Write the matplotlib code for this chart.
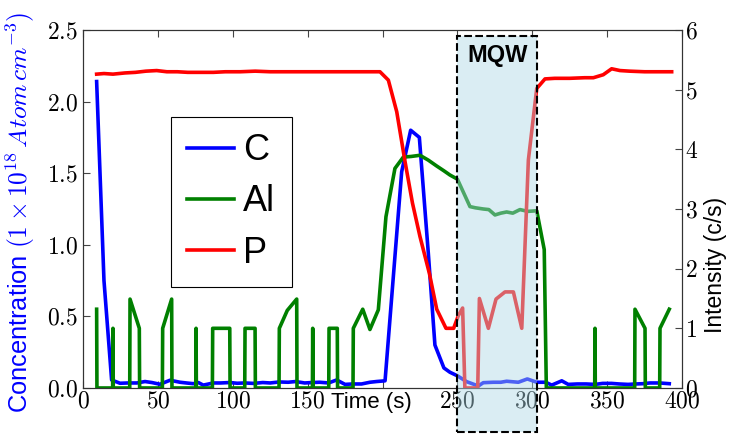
import matplotlib
matplotlib.use('Agg')
import matplotlib.pyplot as plt
from matplotlib.patches import Rectangle
from matplotlib.ticker import FuncFormatter, MultipleLocator

plt.rcParams['font.family'] = ['Liberation Sans', 'DejaVu Sans']
plt.rcParams['mathtext.fontset'] = 'cm'

# Carbone (axe gauche, 1e18 at/cm3)
t_c = [9.1, 14, 19.1, 24.7, 30, 36, 41.4, 46, 51.4, 58.1, 64.8, 69, 73.7, 77, 80.3, 87, 92, 98,
       103, 108, 114, 120, 125, 131, 137, 142, 148, 153, 158, 164, 169.4, 175, 180, 186, 191.6,
       196, 201.7, 212.8, 218.8, 224.6, 230.6, 235, 241, 245, 250, 256.2, 264, 267.3, 274, 279,
       282.9, 290.7, 296.7, 303, 309, 313, 319.7, 324, 330, 336, 342, 347, 353, 358, 364, 369,
       374, 378.6, 385, 391.5]
c_vals = [2.14, 0.75, 0.056, 0.033, 0.035, 0.035, 0.045, 0.038, 0.026, 0.054, 0.04, 0.035, 0.03,
          0.038, 0.02, 0.035, 0.035, 0.038, 0.033, 0.035, 0.032, 0.038, 0.035, 0.042, 0.04, 0.045,
          0.035, 0.038, 0.04, 0.035, 0.056, 0.025, 0.028, 0.028, 0.04, 0.045, 0.05, 1.51, 1.80,
          1.75, 0.94, 0.30, 0.14, 0.11, 0.085, 0.044, 0.014, 0.037, 0.04, 0.04, 0.047, 0.04, 0.063,
          0.04, 0.04, 0.02, 0.05, 0.025, 0.028, 0.028, 0.025, 0.032, 0.032, 0.028, 0.025, 0.028,
          0.03, 0.035, 0.035, 0.03]

# Aluminium (axe droit, c/s)
t_al = [9.1, 9.3, 19.8, 20, 20.2, 31.2, 31.4, 37.6, 37.8, 53.0, 53.2, 59.2, 59.4, 75.3, 75.5, 75.7,
        86.4, 86.6, 98, 98.2, 108.0, 108.2, 114.9, 115.1, 130.9, 131.1, 136.4, 142.7, 142.9,
        153.2, 153.4, 153.6, 164.1, 164.3, 169.8, 170.0, 180.3, 180.5, 186.8, 191.6, 197.2, 202.3,
        208.3, 213.9, 219, 225, 230.5, 236.2, 241, 245, 250, 258.4, 262, 267.3, 271, 275.1, 279,
        282.9, 287, 291.8, 297, 303, 308, 309.4, 341.7, 341.9, 342.1, 368.4, 368.6, 375.3, 375.5,
        385.1, 385.3, 391.5]
al_vals = [1.32, 0, 0, 1.0, 0, 0, 1.49, 1.0, 0, 0, 1.0, 1.49, 0, 0, 1.0, 0,
           0, 1.0, 1.0, 0, 0, 1.0, 1.0, 0, 0, 1.0, 1.30, 1.49, 0,
           0, 1.0, 0, 0, 1.0, 1.0, 0, 0, 1.0, 1.32, 0.98, 1.31, 2.87,
           3.68, 3.87, 3.88, 3.90, 3.82, 3.72, 3.64, 3.57, 3.50, 3.04, 3.02, 3.0, 2.99, 2.90, 2.93,
           2.95, 2.93, 2.99, 2.96, 2.97, 2.32, 0, 0, 1.0, 0, 0, 1.32, 1.0, 0,
           0, 1.0, 1.32]

# Phosphore (axe droit, c/s)
t_p = [9.1, 14, 20, 28, 35, 42, 49.2, 56, 63, 70, 78, 87, 95, 105, 115, 125, 135, 145, 155, 165,
       175, 185, 192, 198.3, 203.9, 209.5, 215, 220, 225, 231.3, 236.2, 242.4, 247.5, 250.6,
       253.5, 255, 263.6, 264.7, 270.7, 275.8, 281.8, 287.4, 293, 297.4, 303, 308.5, 315, 325,
       335, 340.8, 347.4, 353, 358.6, 365, 375, 385, 393.1]
p_vals = [5.26, 5.27, 5.26, 5.28, 5.29, 5.31, 5.32, 5.30, 5.30, 5.29, 5.29, 5.29, 5.30, 5.30, 5.31,
          5.30, 5.30, 5.30, 5.30, 5.30, 5.30, 5.30, 5.30, 5.30, 5.16, 4.63, 3.80, 3.10, 2.54, 1.92,
          1.32, 1.0, 1.0, 1.21, 1.34, 0, 0, 1.50, 1.0, 1.49, 1.61, 1.61, 1.0, 3.82, 5.02, 5.18,
          5.19, 5.19, 5.20, 5.20, 5.25, 5.35, 5.32, 5.31, 5.30, 5.30, 5.30]

mqw_start, mqw_end = 250, 303

fig = plt.figure(figsize=(7.32, 4.43), dpi=100)
ax = fig.add_axes([0.1134, 0.1242, 0.8183, 0.8081])
ax2 = ax.twinx()

l1, = ax.plot(t_c, c_vals, color='b', lw=2.6, label='C')
l2, = ax2.plot(t_al, al_vals, color='g', lw=2.6, label='Al')
l3, = ax2.plot(t_p, p_vals, color='r', lw=2.6, label='P')

ax.set_xlim(0, 400)
ax.set_ylim(0, 2.5)
ax2.set_ylim(0, 6)
ax.xaxis.set_major_locator(MultipleLocator(50))
ax.yaxis.set_major_locator(MultipleLocator(0.5))
ax2.yaxis.set_major_locator(MultipleLocator(1))

ax.xaxis.set_major_formatter(FuncFormatter(lambda v, p: r'$%d$' % v))
ax.yaxis.set_major_formatter(FuncFormatter(lambda v, p: r'$%.1f$' % v))
ax2.yaxis.set_major_formatter(FuncFormatter(lambda v, p: r'$%d$' % v))

ax.tick_params(axis='both', direction='in', length=5, labelsize=17, top=True, right=False,
               color='#444444')
ax.tick_params(axis='x', pad=2)
ax2.tick_params(axis='y', direction='in', length=5, labelsize=17, color='#444444', pad=2)
for a in (ax, ax2):
    for s in a.spines.values():
        s.set_color('#333333')

ax.set_xlabel('Time (s)', fontsize=16,
              bbox=dict(facecolor='white', edgecolor='none', pad=1))
ax.xaxis.set_label_coords(0.481, -0.011)
ax.set_ylabel(r'Concentration $(1\times10^{18}\,Atom\,cm^{-3})$', fontsize=18.3, color='b')
ax.yaxis.set_label_coords(-0.076, 0.49)
ax2.set_ylabel('Intensity (c/s)', fontsize=16.5)
ax2.yaxis.set_label_coords(1.037, 0.344)

# zone MQW
rect = Rectangle((mqw_start, -0.123), mqw_end - mqw_start, 1.106,
                 transform=ax2.get_xaxis_transform(), facecolor='lightblue', alpha=0.45,
                 edgecolor='none', clip_on=False, zorder=5)
ax2.add_patch(rect)
border = Rectangle((mqw_start, -0.123), mqw_end - mqw_start, 1.106,
                   transform=ax2.get_xaxis_transform(), facecolor='none', edgecolor='black',
                   linestyle='--', lw=1.5, clip_on=False, zorder=6)
ax2.add_patch(border)
ax2.text(276.5, 0.93, 'MQW', transform=ax2.get_xaxis_transform(), ha='center', va='center',
         fontsize=17, fontweight='bold', zorder=7)

leg = ax2.legend(handles=[l1, l2, l3], loc='upper left', bbox_to_anchor=(0.147, 0.757),
                 borderaxespad=0, fontsize=26, fancybox=False, edgecolor='black',
                 handlelength=1.3, handletextpad=0.25, labelspacing=0.45, borderpad=0.45,
                 framealpha=1)
leg.get_frame().set_linewidth(0.8)
leg.set_zorder(8)

fig.patch.set_facecolor('white')
fig.savefig('out.png', dpi=100)
